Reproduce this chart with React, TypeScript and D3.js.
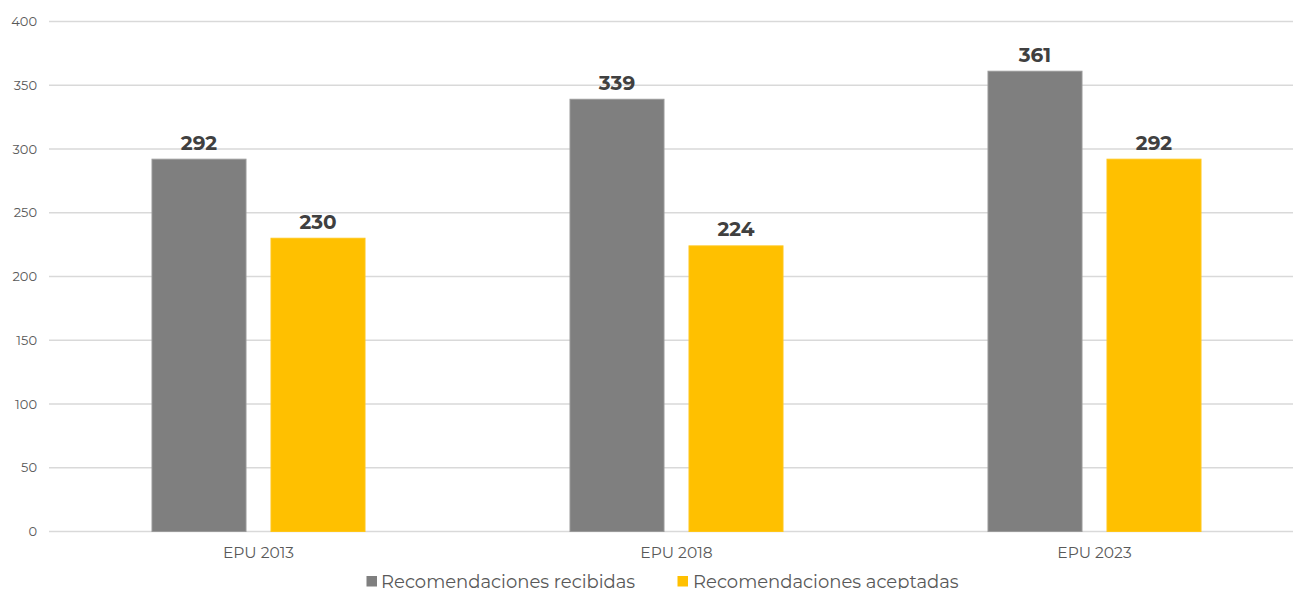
import React from "react";
import * as d3 from "d3";

const categories = ["EPU 2013", "EPU 2018", "EPU 2023"];
const seriesNames = ["Recomendaciones recibidas", "Recomendaciones aceptadas"];
const recibidas = [292, 339, 361];
const aceptadas = [230, 224, 292];
const yTicks = [0, 50, 100, 150, 200, 250, 300, 350, 400];
const colors = ["#7f7f7f", "#ffc000"];

const W = 1293;
const H = 589;
const FONT = "Montserrat, 'Open Sans', 'DejaVu Sans', sans-serif";

export default function App() {
  const x = d3.scaleBand<string>().domain(categories).range([49.5, 1303.5]).paddingInner(0).paddingOuter(0);
  const y = d3.scaleLinear().domain([0, 400]).range([531.5, 21.5]);
  const series = [recibidas, aceptadas];
  const bw = 94;
  const gap = 25;

  return (
    <svg width={W} height={H} style={{ position: "absolute", left: 0, top: 0, background: "#fff" }} fontFamily={FONT}>
      {yTicks.map((t) => (
        <g key={t}>
          <line x1={49} x2={W} y1={y(t)} y2={y(t)} stroke="#d9d9d9" strokeWidth={1.3} />
          <text x={37} y={y(t)} dy="0.35em" textAnchor="end" fontSize={13} fill="#595959">{t}</text>
        </g>
      ))}
      {categories.map((c, i) => {
        const x0 = (x(c) as number) + (x.bandwidth() - (2 * bw + gap)) / 2;
        return (
          <g key={c}>
            {series.map((s, j) => {
              const bx = x0 + j * (bw + gap);
              return (
                <g key={j}>
                  <rect x={bx} y={y(s[i])} width={bw} height={y(0) - y(s[i])} fill={colors[j]} stroke={j === 0 ? "#9a9a9a" : "#ffc61a"} strokeWidth={1} />
                  <text x={bx + bw / 2} y={y(s[i]) - 9.5} textAnchor="middle" fontSize={20} fontWeight={700} fill="#404040">{s[i]}</text>
                </g>
              );
            })}
            <text x={(x(c) as number) + x.bandwidth() / 2} y={558} textAnchor="middle" fontSize={15.5} fill="#595959">{c}</text>
          </g>
        );
      })}
      <g>
        <rect x={366.5} y={576} width={10.5} height={10.5} fill={colors[0]} />
        <text x={381} y={588} fontSize={18} fill="#595959">{seriesNames[0]}</text>
        <rect x={677.5} y={576} width={10.5} height={10.5} fill={colors[1]} />
        <text x={693} y={588} fontSize={18} fill="#595959">{seriesNames[1]}</text>
      </g>
    </svg>
  );
}
